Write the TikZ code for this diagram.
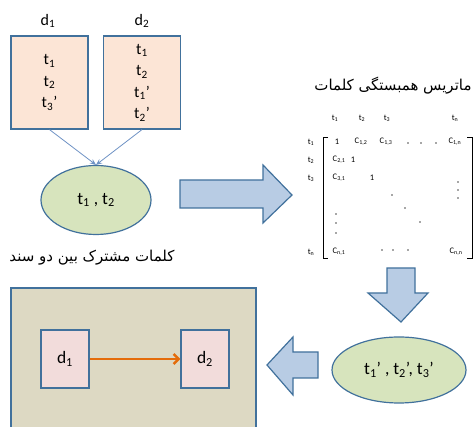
\documentclass[tikz,border=0pt]{standalone}
\usepackage{fontspec}
\setmainfont{Carlito}
\newfontfamily\farsi[Script=Arabic]{DejaVu Sans}
\TeXXeTstate=1
\usetikzlibrary{shapes.geometric,arrows.meta}
\definecolor{edgeblue}{RGB}{65,113,156}
\definecolor{peach}{RGB}{252,229,214}
\definecolor{palegreen}{RGB}{215,228,189}
\definecolor{arrowblue}{RGB}{184,204,228}
\definecolor{linkblue}{RGB}{110,146,196}
\definecolor{tan}{RGB}{221,217,195}
\definecolor{rose}{RGB}{242,220,219}
\definecolor{linkorange}{RGB}{228,108,10}
\newcommand{\wsub}[2]{#1\textsubscript{#2}}
\tikzset{
  docbox/.style={draw=edgeblue, line width=1.2pt, fill=peach, minimum width=77pt, minimum height=93pt, align=center, font=\fontsize{16}{21.5}\selectfont},
  setoval/.style={draw=edgeblue, line width=1.2pt, fill=palegreen, ellipse, font=\fontsize{17.5}{19}\selectfont},
  blockarrow/.style={draw=edgeblue, line width=1.2pt, fill=arrowblue, line join=miter},
  tiny/.style={font=\fontsize{8.5}{9}\selectfont, inner sep=0pt},
  label/.style={font=\fontsize{16}{18}\selectfont}
}
\begin{document}
\begin{tikzpicture}[x=1pt,y=-1pt]
\useasboundingbox (0,0) rectangle (475,427);
\clip (0,0) rectangle (475,427);
% documents
\node[label] (name1) at (48,21) {\wsub{d}{1}};
\node[label] (name2) at (142,21) {\wsub{d}{2}};
\node[docbox] (doc1) at (49.5,82.5) {\wsub{t}{1}\\\wsub{t}{2}\\\wsub{t}{3}’};
\node[docbox] (doc2) at (142,82.5) {\wsub{t}{1}\\\wsub{t}{2}\\\wsub{t}{1}’\\\wsub{t}{2}’};
\node[setoval, minimum width=110pt, minimum height=69pt] (common) at (96,200) {\wsub{t}{1} , \wsub{t}{2}};
\draw[linkblue, line width=0.8pt, -{Stealth[length=6pt,width=5pt]}] (doc1.south) -- (common.north);
\draw[linkblue, line width=0.8pt, -{Stealth[length=6pt,width=5pt]}] (doc2.south) -- (common.north);
% big arrows
\draw[blockarrow] (180,180)--(263,180)--(263,165)--(292,195)--(263,223)--(263,208)--(180,208)--cycle;
\draw[blockarrow] (387,268)--(415,268)--(415,293)--(428,293)--(401,322)--(368,293)--(387,293)--cycle;
\draw[blockarrow] (318,352)--(293,352)--(293,337)--(267,365)--(293,395)--(293,378)--(318,378)--cycle;
% matrix
\node[font=\farsi\fontsize{15}{17}\selectfont, inner sep=0pt] (mtitle) at (393,86) {\beginR ماتریس همبستگی کلمات\endR};
\node[tiny] (h1) at (335,118) {\wsub{t}{1}};
\node[tiny] (h2) at (362,118) {\wsub{t}{2}};
\node[tiny] (h3) at (387,118) {\wsub{t}{3}};
\node[tiny] (hn) at (455,118) {\wsub{t}{n}};
\node[tiny] (r1) at (311,142) {\wsub{t}{1}};
\node[tiny] (r2) at (311,160) {\wsub{t}{2}};
\node[tiny] (r3) at (311,178) {\wsub{t}{3}};
\node[tiny] (rn) at (311,252) {\wsub{t}{n}};
\draw[line width=0.9pt] (328,137)--(323,137)--(323,258)--(328,258);
\draw[line width=0.9pt] (467,137)--(472,137)--(472,258)--(467,258);
\node[tiny] (m11) at (337,142) {1};
\node[tiny] (m12) at (361,142) {\wsub{C}{1,2}};
\node[tiny] (m13) at (386,142) {\wsub{C}{1,3}};
\node[tiny] (m1n) at (455,142) {\wsub{C}{1,n}};
\node[tiny] (m21) at (339,160) {\wsub{C}{2,1}};
\node[tiny] (m22) at (353,160) {1};
\node[tiny] (m31) at (339,178) {\wsub{C}{3,1}};
\node[tiny] (m33) at (372,178) {1};
\node[tiny] (mn1) at (339,252) {\wsub{C}{n,1}};
\node[tiny] (mnn) at (456,252) {\wsub{C}{n,n}};
\foreach \x/\y in {408/143,421/143,436/143, 458/182,458/190,458/198, 392/195,405/208,420/222, 336/214,336/223,336/233, 382/250,393/250,408/250}
  \fill[black!70] (\x,\y) circle (0.8pt);
% result
\node[setoval, minimum width=134pt, minimum height=66pt] (expanded) at (399,370) {\wsub{t}{1}’ , \wsub{t}{2}’, \wsub{t}{3}’};
\node[font=\farsi\fontsize{15}{17}\selectfont, inner sep=0pt] (caption) at (92,258) {\beginR کلمات مشترک بین دو سند\endR};
\draw[draw=edgeblue, line width=1.2pt, fill=tan] (11,440) -- (11,288) -- (256,288) -- (256,440);
\node[docbox, fill=rose, minimum width=48pt, minimum height=58pt, font=\fontsize{17.5}{19}\selectfont] (pair1) at (65,359) {\wsub{d}{1}};
\node[docbox, fill=rose, minimum width=48pt, minimum height=58pt, font=\fontsize{17.5}{19}\selectfont] (pair2) at (205,359) {\wsub{d}{2}};
\draw[linkorange, line width=2.5pt, -{Straight Barb[length=5pt,width=10pt]}] (pair1) -- (pair2);
\end{tikzpicture}
\end{document}
